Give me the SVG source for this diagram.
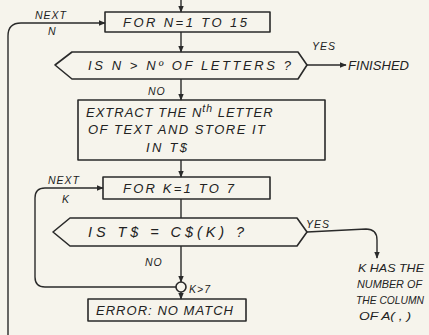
<svg xmlns="http://www.w3.org/2000/svg" width="429" height="335" viewBox="0 0 429 335">
<style>
.bg{fill:#f6f4ec}
.shape{fill:none;stroke:#2a2a2a;stroke-width:1.6;stroke-linejoin:round}
.line{fill:none;stroke:#2a2a2a;stroke-width:1.4}
text{font-family:"Liberation Sans","DejaVu Sans",sans-serif;font-style:italic;font-size:13px;fill:#222;letter-spacing:1px}
.sm{font-size:10.5px}
.rs{font-size:11px;letter-spacing:0}
</style>
<defs>
<marker id="ah" viewBox="0 0 10 10" refX="9" refY="5" markerWidth="7" markerHeight="7" orient="auto" markerUnits="userSpaceOnUse">
<path d="M0,1 L10,5 L0,9 Z" fill="#2a2a2a"/>
</marker>
</defs>
<rect class="bg" x="0" y="0" width="429" height="335"/>

<g id="connectors">
<path class="line" d="M181,0 V12" marker-end="url(#ah)"/>
<path class="line" d="M181,32 V52" marker-end="url(#ah)"/>
<path class="line" d="M307,65 H346" marker-end="url(#ah)"/>
<path class="line" d="M181,79 V100" marker-end="url(#ah)"/>
<path class="line" d="M181,160 V177" marker-end="url(#ah)"/>
<path class="line" d="M181,199 V218"/>
<path class="line" d="M181,246 V282" marker-end="url(#ah)"/>
<path class="line" d="M181,292 V299" marker-end="url(#ah)"/>
<path class="line" d="M307,232 L366,229 Q377,229 377,240 V258" marker-end="url(#ah)"/>
<path class="line" d="M176,287 H45 Q35,287 35,277 V198 Q35,188 45,188 H103" marker-end="url(#ah)"/>
<path class="line" d="M8,335 V36 Q8,23 21,23 H105" marker-end="url(#ah)"/>
<text x="35" y="19" class="sm">NEXT</text>
<text x="48" y="35" class="sm">N</text>
<text x="48" y="184" class="sm">NEXT</text>
<text x="62" y="203" class="sm">K</text>
<text x="312" y="50" class="sm">YES</text>
<text x="306" y="228" class="sm">YES</text>
<text x="148" y="95" class="sm">NO</text>
<text x="145" y="266" class="sm">NO</text>
<text x="189" y="293" class="sm">K&gt;7</text>
</g>

<g id="for_n">
<rect class="shape" x="105" y="12" width="165" height="20"/>
<text x="123" y="27" textLength="125" lengthAdjust="spacing">FOR N=1 TO 15</text>
</g>

<g id="test_n">
<polygon class="shape" points="55,65 72,52 298,52 307,65 298,79 72,79"/>
<text x="88" y="70" textLength="204" lengthAdjust="spacing">IS N &gt; Nº OF LETTERS ?</text>
</g>

<g id="finished">
<text x="348" y="70" textLength="62" lengthAdjust="spacing">FINISHED</text>
</g>

<g id="extract">
<rect class="shape" x="78" y="100" width="247" height="60"/>
<text x="86" y="117">EXTRACT THE N<tspan class="sm" dy="-5">th</tspan><tspan dy="5"> LETTER</tspan></text>
<text x="88" y="134" textLength="178" lengthAdjust="spacing">OF TEXT AND STORE IT</text>
<text x="146" y="152" textLength="42" lengthAdjust="spacing">IN T$</text>
</g>

<g id="for_k">
<rect class="shape" x="103" y="177" width="167" height="22"/>
<text x="123" y="193" textLength="112" lengthAdjust="spacing">FOR K=1 TO 7</text>
</g>

<g id="test_k">
<polygon class="shape" points="53,232 70,218 297,218 307,232 297,246 70,246"/>
<text x="88" y="237" textLength="157" lengthAdjust="spacing" style="font-size:14.5px">IS T$ = C$(K) ?</text>
</g>

<g id="junction">
<circle class="shape" cx="181" cy="287" r="5"/>
</g>

<g id="error">
<rect class="shape" x="88" y="299" width="158" height="22"/>
<text x="96" y="315" textLength="138" lengthAdjust="spacing">ERROR: NO MATCH</text>
</g>

<g id="result">
<text class="rs" x="358" y="272" textLength="66" lengthAdjust="spacingAndGlyphs">K HAS THE</text>
<text class="rs" x="357" y="288" textLength="65" lengthAdjust="spacingAndGlyphs">NUMBER OF</text>
<text class="rs" x="356" y="304" textLength="68" lengthAdjust="spacingAndGlyphs">THE COLUMN</text>
<text class="rs" x="359" y="320" textLength="52" lengthAdjust="spacingAndGlyphs">OF A( , )</text>
</g>
</svg>
